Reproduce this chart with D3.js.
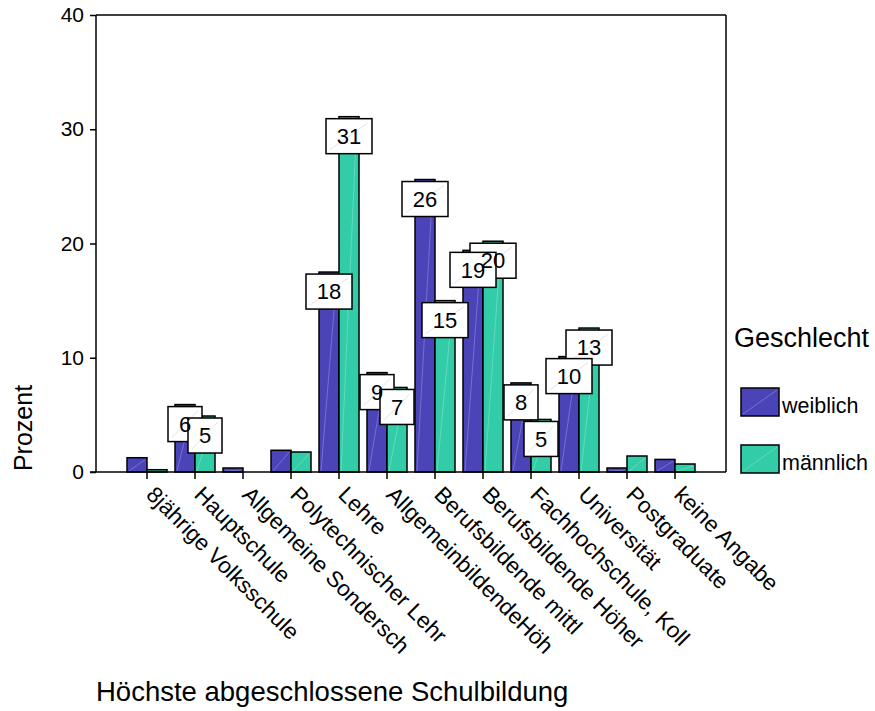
<!DOCTYPE html>
<html><head><meta charset="utf-8">
<script src="https://cdn.jsdelivr.net/npm/d3@7"></script>
<style>body{margin:0;background:#fff}svg{display:block;font-family:Arial,"Liberation Sans",sans-serif}</style>
</head><body>
<svg id="c" width="875" height="711"></svg>
<script>
const categories = ["8jährige Volksschule","Hauptschule","Allgemeine Sondersch","Polytechnischer Lehr","Lehre","AllgemeinbildendeHöh","Berufsbildende mittl","Berufsbildende Höher","Fachhochschule, Koll","Universität","Postgraduate","keine Angabe"];
const seriesNames = ["weiblich","männlich"];
const weiblich = [1.25, 5.9, 0.35, 1.9, 17.5, 8.7, 25.6, 19.4, 7.8, 10.1, 0.35, 1.1];
const maennlich = [0.2, 4.9, 0, 1.75, 31.1, 7.4, 15.0, 20.2, 4.6, 12.6, 1.4, 0.7];
const yTicks = [0, 10, 20, 30, 40];
const colors = ["#4a44b8", "#33cca8"];

const svg = d3.select("#c");
const pL = 96, pR = 726, pT = 15, pB = 472;
const y = d3.scaleLinear().domain([0, 40]).range([pB, pT]);
const x = d3.scaleBand().domain(categories).range([123, 699]).paddingInner(1/6).paddingOuter(1/12);
const xs = d3.scaleBand().domain(seriesNames).range([0, x.bandwidth()]);

// frame
svg.append("line").attr("x1", pL).attr("x2", pR).attr("y1", pT).attr("y2", pT).attr("stroke", "#000").attr("stroke-width", 1.5);
svg.append("line").attr("x1", pR).attr("x2", pR).attr("y1", pT).attr("y2", pB).attr("stroke", "#000").attr("stroke-width", 1.5);

const data = [];
categories.forEach((c, i) => {
  data.push({c, s: "weiblich", v: weiblich[i], col: colors[0]});
  data.push({c, s: "männlich", v: maennlich[i], col: colors[1]});
});

const bars = svg.append("g");
data.filter(d => d.v > 0).forEach(d => {
  const bx = x(d.c) + xs(d.s), bw = xs.bandwidth(), by = y(d.v), bh = y(0) - y(d.v);
  bars.append("rect").attr("x", bx).attr("y", by).attr("width", bw).attr("height", bh)
    .attr("fill", d.col).attr("stroke", "#000").attr("stroke-width", 1.5);
  if (bh > 3) bars.append("line").attr("x1", bx + 2).attr("y1", y(0) - 1).attr("x2", bx + bw - 2).attr("y2", by + 2)
    .attr("stroke", "#fff").attr("stroke-opacity", 0.3).attr("stroke-width", 0.8);
});

// y axis
const ya = svg.append("g").attr("transform", `translate(${pL},0)`)
  .call(d3.axisLeft(y).tickValues(yTicks).tickSize(6).tickPadding(6));
ya.select(".domain").attr("stroke-width", 1.5).attr("d", `M0,${pT}V${pB}`);
ya.selectAll(".tick line").attr("stroke-width", 1.5);
ya.selectAll("text").attr("font-size", 21).attr("font-family", "Arial, 'Liberation Sans', sans-serif").attr("fill", "#000");

// x axis
const xa = svg.append("g").attr("transform", `translate(0,${pB})`)
  .call(d3.axisBottom(x).tickSize(7).tickFormat(""));
xa.select(".domain").attr("stroke-width", 1.5).attr("d", `M90,0H${pR}`);
xa.selectAll(".tick line").attr("stroke-width", 1.5);
xa.selectAll(".tick").append("text")
  .attr("transform", "translate(-2,24) rotate(45)")
  .attr("text-anchor", "start").attr("font-size", 22.5).attr("fill", "#000")
  .attr("font-family", "Arial, 'Liberation Sans', sans-serif")
  .text(d => d);

// value labels
const labs = data.filter(d => d.v >= 4).map(d => ({...d, cx: x(d.c) + xs(d.s) + xs.bandwidth() / 2, ty: y(d.v) + 2, t: String(Math.round(d.v))}));
labs.sort((a, b) => a.ty - b.ty);
const lg = svg.append("g");
labs.forEach(d => {
  const w = d.t.length * 12 + 22, h = 35;
  lg.append("rect").attr("x", d.cx - w / 2).attr("y", d.ty).attr("width", w).attr("height", h)
    .attr("fill", "#fff").attr("stroke", "#000").attr("stroke-width", 1.5);
  lg.append("line").attr("x1", d.cx - w / 2 + 4).attr("y1", d.ty + h - 4).attr("x2", d.cx + w / 2 - 4).attr("y2", d.ty + 4)
    .attr("stroke", "#99a").attr("stroke-opacity", 0.35).attr("stroke-width", 0.8);
});
labs.forEach(d => {
  lg.append("text").attr("x", d.cx).attr("y", d.ty + 17.5).attr("dy", "0.35em")
    .attr("text-anchor", "middle").attr("font-size", 22).attr("fill", "#000").text(d.t);
});

// axis titles
svg.append("text").attr("transform", "translate(32,428) rotate(-90)").attr("text-anchor", "middle")
  .attr("font-size", 25).attr("fill", "#000").text("Prozent");
svg.append("text").attr("x", 96).attr("y", 701).attr("font-size", 27.5).attr("fill", "#000")
  .text("Höchste abgeschlossene Schulbildung");

// legend
svg.append("text").attr("x", 734).attr("y", 347).attr("font-size", 27).attr("fill", "#000").text("Geschlecht");
seriesNames.forEach((s, i) => {
  const ly = 388 + i * 57;
  svg.append("rect").attr("x", 741).attr("y", ly).attr("width", 38).attr("height", 28)
    .attr("fill", colors[i]).attr("stroke", "#000").attr("stroke-width", 1.5);
  svg.append("line").attr("x1", 743).attr("y1", ly + 26).attr("x2", 777).attr("y2", ly + 2)
    .attr("stroke", "#fff").attr("stroke-opacity", 0.3).attr("stroke-width", 0.8);
  svg.append("text").attr("x", 782).attr("y", ly + 25).attr("font-size", 21.5).attr("fill", "#000").text(s);
});
</script>
</body></html>
